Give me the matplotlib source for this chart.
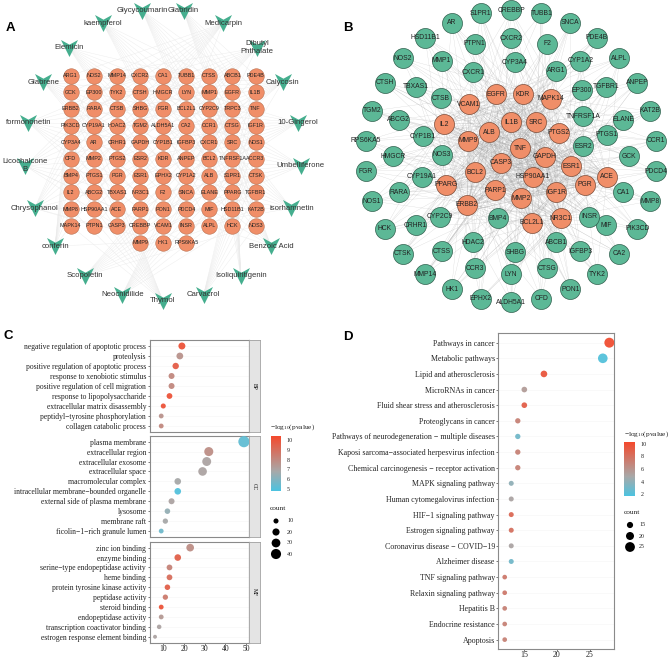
import numpy as np
import matplotlib
matplotlib.use('Agg')
import matplotlib.pyplot as plt
from matplotlib.colors import LinearSegmentedColormap, Normalize
from matplotlib.cm import ScalarMappable
from matplotlib.collections import LineCollection
from matplotlib.path import Path

plt.rcParams['font.family'] = 'Liberation Serif'
plt.rcParams['mathtext.default'] = 'regular'

W, H = 669, 659

# panel A
herbs = ['Thymol', 'Carvacrol', 'Isoliquiritigenin', 'Benzoic Acid', 'isorhamnetin', 'Umbelliferone',
         '10-Gingerol', 'Calycosin', 'Dibutyl\nPhthalate', 'Medicarpin', 'Glabridin', 'Glycycoumarin',
         'kaempferol', 'Elemicin', 'Glabrene', 'formononetin', 'Licochalcone\nB', 'Chrysophanol',
         'conferin', 'Scopoletin', 'Neocnidilide']
grid_rows = [
    ['ARG1', 'NOS2', 'MMP14', 'CXCR2', 'CA1', 'TUBB1', 'CTSS', 'ABCB1', 'PDE4B'],
    ['GCK', 'EP300', 'TYK2', 'CTSH', 'HMGCR', 'LYN', 'MMP1', 'EGFR', 'IL1B'],
    ['ERBB2', 'RARA', 'CTSB', 'SHBG', 'FGR', 'BCL2L1', 'CYP2C9', 'TRPC3', 'TNF'],
    ['PIK3CD', 'CYP19A1', 'HDAC2', 'TGM2', 'ALDH5A1', 'CA2', 'CCR1', 'CTSG', 'IGF1R'],
    ['CYP3A4', 'AR', 'CRHR1', 'GAPDH', 'CYP1B1', 'IGFBP3', 'CXCR1', 'SRC', 'NOS1'],
    ['CFD', 'MMP2', 'PTGS2', 'ESR2', 'KDR', 'ANPEP', 'BCL2', 'TNFRSF1A', 'ACCR3'],
    ['BMP4', 'PTGS1', 'PGR', 'ESR1', 'EPHX2', 'CYP1A2', 'ALB', 'S1PR1', 'CTSK'],
    ['IL2', 'ABCG2', 'TBXAS1', 'NR3C1', 'F2', 'SNCA', 'ELANE', 'PPARG', 'TGFBR1'],
    ['MMP8', 'HSP90AA1', 'ACE', 'PARP1', 'PON1', 'PDCD4', 'MIF', 'HSD11B1', 'KAT2B'],
    ['MAPK14', 'PTPN1', 'CASP3', 'CREBBP', 'VCAM1', 'INSR', 'ALPL', 'HCK', 'NOS3'],
    ['', '', '', 'MMP9', 'HK1', 'RPS6KA5', '', '', ''],
]

# panel B
outer_ring = ['CREBBP', 'TUBB1', 'SNCA', 'PDE4B', 'ALPL', 'ANPEP', 'KAT2B', 'CCR1', 'PDCD4', 'MMP8',
              'PIK3CD', 'CA2', 'TYK2', 'PON1', 'CFD', 'ALDH5A1', 'EPHX2', 'HK1', 'MMP14', 'CTSK',
              'HCK', 'NOS1', 'FGR', 'RPS6KA5', 'TGM2', 'CTSH', 'NOS2', 'HSD11B1', 'AR', 'S1PR1']
middle_ring = ['CXCR2', 'F2', 'CYP1A2', 'TGFBR1', 'ELANE', 'GCK', 'CA1', 'MIF', 'IGFBP3', 'CTSG',
               'LYN', 'CCR3', 'CTSS', 'CRHR1', 'RARA', 'HMGCR', 'ABCG2', 'TBXAS1', 'MMP1', 'PTPN1']
# network layout in pixels
green_inner = {'CYP3A4': (515, 62), 'ARG1': (556, 71), 'EP300': (582, 90), 'TNFRSF1A': (583, 116),
               'PTGS1': (607, 135), 'ESR2': (583, 146), 'INSR': (589, 217), 'ABCB1': (556, 242),
               'SHBG': (515, 252), 'BMP4': (498, 218), 'HDAC2': (473, 242), 'CYP2C9': (440, 217),
               'CYP19A1': (422, 177), 'NOS3': (442, 155), 'CYP1B1': (423, 136), 'CTSB': (441, 98),
               'CXCR1': (473, 72)}
orange_core = {'EGFR': (496, 94), 'KDR': (523, 94), 'MAPK14': (551, 99), 'VCAM1': (469, 104),
               'IL2': (444, 124), 'IL1B': (511, 122), 'SRC': (536, 122), 'ALB': (489, 132),
               'MMP9': (468, 141), 'PTGS2': (559, 133), 'TNF': (520, 148), 'GAPDH': (545, 157),
               'CASP3': (501, 163), 'BCL2': (475, 172), 'ESR1': (571, 166), 'HSP90AA1': (533, 177),
               'ACE': (607, 177), 'PPARG': (446, 185), 'PARP1': (495, 190), 'IGF1R': (556, 192),
               'PGR': (585, 185), 'MMP2': (521, 198), 'ERBB2': (467, 205), 'BCL2L1': (532, 223),
               'NR3C1': (561, 218)}

# panel C
bp_terms = ['negative regulation of apoptotic process', 'proteolysis', 'positive regulation of apoptotic process',
            'response to xenobiotic stimulus', 'positive regulation of cell migration',
            'response to lipopolysaccharide', 'extracellular matrix disassembly',
            'peptidyl\u2212tyrosine phosphorylation', 'collagen catabolic process']
bp_count = [19, 18, 16, 14, 14, 13, 10, 9, 9]
bp_logp = [10, 7.6, 9.6, 8, 8, 10, 10, 7.6, 8]
cc_terms = ['plasma membrane', 'extracellular region', 'extracellular exosome', 'extracellular space',
            'macromolecular complex', 'intracellular membrane\u2212bounded organelle',
            'external side of plasma membrane', 'lysosome', 'membrane raft', 'ficolin\u22121\u2212rich granule lumen']
cc_count = [49, 32, 31, 29, 17, 17, 14, 12, 11, 9]
cc_logp = [5.3, 7.8, 7, 7, 6.8, 5, 7, 6.4, 6.8, 5.6]
mf_terms = ['zinc ion binding', 'enzyme binding', 'serine\u2212type endopeptidase activity', 'heme binding',
            'protein tyrosine kinase activity', 'peptidase activity', 'steroid binding', 'endopeptidase activity',
            'transcription coactivator binding', 'estrogen response element binding']
mf_count = [23, 17, 13, 13, 12, 11, 9, 9, 8, 6]
mf_logp = [7.8, 9.5, 8.2, 9, 9.5, 8.5, 10, 7.4, 7, 7]

# panel D
kegg_terms = ['Pathways in cancer', 'Metabolic pathways', 'Lipid and atherosclerosis', 'MicroRNAs in cancer',
              'Fluid shear stress and atherosclerosis', 'Proteoglycans in cancer',
              'Pathways of neurodegeneration \u2212 multiple diseases', 'Kaposi sarcoma\u2212associated herpesvirus infection',
              'Chemical carcinogenesis \u2212 receptor activation', 'MAPK signaling pathway',
              'Human cytomegalovirus infection', 'HIF\u22121 signaling pathway', 'Estrogen signaling pathway',
              'Coronavirus disease \u2212 COVID\u221219', 'Alzheimer disease', 'TNF signaling pathway',
              'Relaxin signaling pathway', 'Hepatitis B', 'Endocrine resistance', 'Apoptosis']
kegg_count = [28, 27, 18, 15, 15, 14, 14, 14, 14, 13, 13, 13, 13, 13, 13, 12, 12, 12, 12, 12]
kegg_logp = [10, 2, 9.5, 5.5, 9, 7, 3, 7, 7, 4, 5, 8.5, 8, 5, 3, 7.5, 7.5, 7, 7, 7]

ORANGE = '#F08E68'
GREEN = '#5CB896'
TEAL = '#45AE8E'
cmap = LinearSegmentedColormap.from_list('logp', [(0, '#4CC3E0'), (0.36, '#A8A8A8'), (1, '#F4492C')])
chevron = Path([(-1, 1), (0, 0.45), (1, 1), (0, -1), (-1, 1)])


def px_axes(left, top, right, bottom, **kw):
    return fig.add_axes([left / W, 1 - bottom / H, (right - left) / W, (bottom - top) / H], **kw)


def size_c(count):
    return (1.6 * np.sqrt(np.asarray(count, dtype=float)) * 0.72) ** 2


def size_d(count):
    return ((0.33 * np.asarray(count, dtype=float) + 0.7) * 0.72) ** 2


def dot_panel(box, terms, counts, logp, xlim, xticks, norm, size_fn, fs, strip=None):
    ax = px_axes(*box)
    y = np.arange(len(terms))
    ax.scatter(counts, y, s=size_fn(counts), c=logp, cmap=cmap, norm=norm, linewidths=0, zorder=3, alpha=0.95)
    ax.set_xlim(*xlim)
    ax.set_ylim(len(terms) - 1 + 0.6, -0.6)
    ax.set_yticks(y)
    ax.set_yticklabels(terms, fontsize=fs, color='#222222')
    ax.set_xticks(xticks)
    ax.tick_params(axis='y', length=1.5, width=0.5, pad=1, color='#444444')
    ax.tick_params(axis='x', length=1.2, width=0.5, pad=0.4, labelsize=fs, labelcolor='#222222', color='#444444')
    ax.grid(axis='y', color='#F5F5F5', lw=0.4)
    ax.set_axisbelow(True)
    for s in ax.spines.values():
        s.set_color('#8A8A8A')
        s.set_linewidth(0.8)
    if strip:
        ax.spines['right'].set_color('#333333')
        st = px_axes(box[2], box[1], box[2] + 10.7, box[3], facecolor='#E4E4E4')
        st.set_xticks([])
        st.set_yticks([])
        for s in st.spines.values():
            s.set_color('#A0A0A0')
            s.set_linewidth(0.6)
        st.text(0.5, 0.5, strip, rotation=-90, ha='center', va='center', fontsize=4, transform=st.transAxes)
    return ax


def logp_bar(box, norm, ticks):
    cax = px_axes(*box)
    cb = fig.colorbar(ScalarMappable(norm=norm, cmap=cmap), cax=cax)
    cb.set_ticks(ticks)
    cb.ax.tick_params(length=0, pad=4, labelsize=4.3, labelcolor='#222222')
    cb.outline.set_visible(False)


fig = plt.figure(figsize=(W / 100, H / 100), dpi=100)
net = fig.add_axes([0, 0, 1, 1], zorder=0)
net.set_xlim(0, W)
net.set_ylim(H, 0)
net.axis('off')

# panel A network
gx = 70.7 + 23.1 * np.arange(9)
gy = 75.5 + 16.7 * np.arange(11)
gene_pos = []
gene_names = []
for r, row in enumerate(grid_rows):
    for c, name in enumerate(row):
        if name:
            gene_pos.append((gx[c], gy[r]))
            gene_names.append(name)
gene_pos = np.array(gene_pos)
ang = np.deg2rad(-90 + np.arange(len(herbs)) * 360 / len(herbs))
herb_x = 163 + 138 * np.cos(ang)
herb_y = 155 - 146 * np.sin(ang)
segs = []
for i in range(len(herbs)):
    for k in range(len(gene_pos)):
        if (i + k) % 9 == 0:
            segs.append([(herb_x[i], herb_y[i]), tuple(gene_pos[k])])
net.add_collection(LineCollection(segs, colors='#EBEBEB', linewidths=0.3, zorder=1))
net.scatter(gene_pos[:, 0], gene_pos[:, 1], s=(15.5 * 0.72) ** 2, c=ORANGE, edgecolors='#B87050', linewidths=0.4, zorder=2)
for (x, y), name in zip(gene_pos, gene_names):
    net.text(x, y, name, ha='center', va='center', fontsize=3.9, color='#222222', family='Liberation Sans', zorder=3)
net.scatter(herb_x, herb_y, s=(17 * 0.72) ** 2, marker=chevron, c=TEAL, linewidths=0, zorder=4)
for x, y, name in zip(herb_x, herb_y, herbs):
    net.text(x, y, name, ha='center', va='center', fontsize=5.6, color='#333333', family='Liberation Sans',
             linespacing=1.2, zorder=5)

# panel B network
pos_b = {}
for i, name in enumerate(outer_ring):
    a = np.deg2rad(90 - 12 * i)
    pos_b[name] = (511 + 146 * np.cos(a), 156 - 146 * np.sin(a))
for i, name in enumerate(middle_ring):
    a = np.deg2rad(90 - 18 * i)
    pos_b[name] = (511 + 118 * np.cos(a), 156 - 118 * np.sin(a))
pos_b.update(green_inner)
green_names = list(pos_b)
segs = []
core_names = list(orange_core)
for j, hub in enumerate(core_names):
    for i, name in enumerate(green_names):
        if (i + j) % 4 == 0:
            segs.append([orange_core[hub], pos_b[name]])
    for other in core_names[j + 1:]:
        segs.append([orange_core[hub], orange_core[other]])
net.add_collection(LineCollection(segs, colors='#9A9A9A', linewidths=0.2, alpha=0.45, zorder=1))
gxy = np.array([pos_b[n] for n in green_names])
oxy = np.array([orange_core[n] for n in core_names])
net.scatter(gxy[:, 0], gxy[:, 1], s=(20 * 0.72) ** 2, c=GREEN, edgecolors='#2E5E4C', linewidths=0.5, zorder=2)
net.scatter(oxy[:, 0], oxy[:, 1], s=(20 * 0.72) ** 2, c=ORANGE, edgecolors='#7A4A36', linewidths=0.5, zorder=2)
for name in green_names:
    net.text(*pos_b[name], name, ha='center', va='center', fontsize=4.9, color='#222222',
             family='Liberation Sans', zorder=3)
for name in core_names:
    net.text(*orange_core[name], name, ha='center', va='center', fontsize=4.9, color='#222222',
             family='Liberation Sans', zorder=3)

# panel letters
for lab, x, y in [('A', 10, 28), ('B', 348, 28), ('C', 8, 336), ('D', 348, 337)]:
    net.text(x, y, lab, ha='center', va='center', fontsize=9.5, fontweight='bold', family='Liberation Sans')

# panel C
norm_c = Normalize(4.83, 10.37)
c_xlim = (3.43, 51.6)
dot_panel((149.7, 340, 249.3, 432), bp_terms, bp_count, bp_logp, c_xlim, [], norm_c, size_c, 5.5, 'BP')
dot_panel((149.7, 435.7, 249.3, 537), cc_terms, cc_count, cc_logp, c_xlim, [], norm_c, size_c, 5.5, 'CC')
dot_panel((149.7, 541.7, 249.3, 642.7), mf_terms, mf_count, mf_logp, c_xlim, [10, 20, 30, 40, 50], norm_c, size_c, 5.5, 'MF')
logp_bar((271, 436, 281, 491), norm_c, [5, 6, 7, 8, 9, 10])
net.text(270, 427, r'$-$log$_{10}$(pvalue)', fontsize=5.3, va='center', color='#222222')
net.text(270, 508, 'count', fontsize=5.3, va='center', color='#222222')
c_legend = [10, 20, 30, 40]
net.scatter([276] * 4, [521, 532, 543, 554], s=size_c(c_legend), c='black', linewidths=0)
for y, v in zip([521, 532, 543, 554], c_legend):
    net.text(287, y, str(v), fontsize=4.3, va='center', color='#222222')

# panel D
norm_d = Normalize(1.7, 10.3)
dot_panel((498.3, 333.3, 614.3, 649), kegg_terms, kegg_count, kegg_logp, (11.02, 28.76), [15, 20, 25], norm_d, size_d, 5.7)
logp_bar((624, 442, 635, 496), norm_d, [2, 4, 6, 8, 10])
net.text(624, 434, r'$-$log$_{10}$(pvalue)', fontsize=5.3, va='center', color='#222222')
net.text(624, 513, 'count', fontsize=5.3, va='center', color='#222222')
d_legend = [15, 20, 25]
net.scatter([630] * 3, [525, 536, 547], s=size_d(d_legend) * 1.2, c='black', linewidths=0)
for y, v in zip([525, 536, 547], d_legend):
    net.text(639, y, str(v), fontsize=4.3, va='center', color='#222222')

fig.savefig('out.png', dpi=100)
